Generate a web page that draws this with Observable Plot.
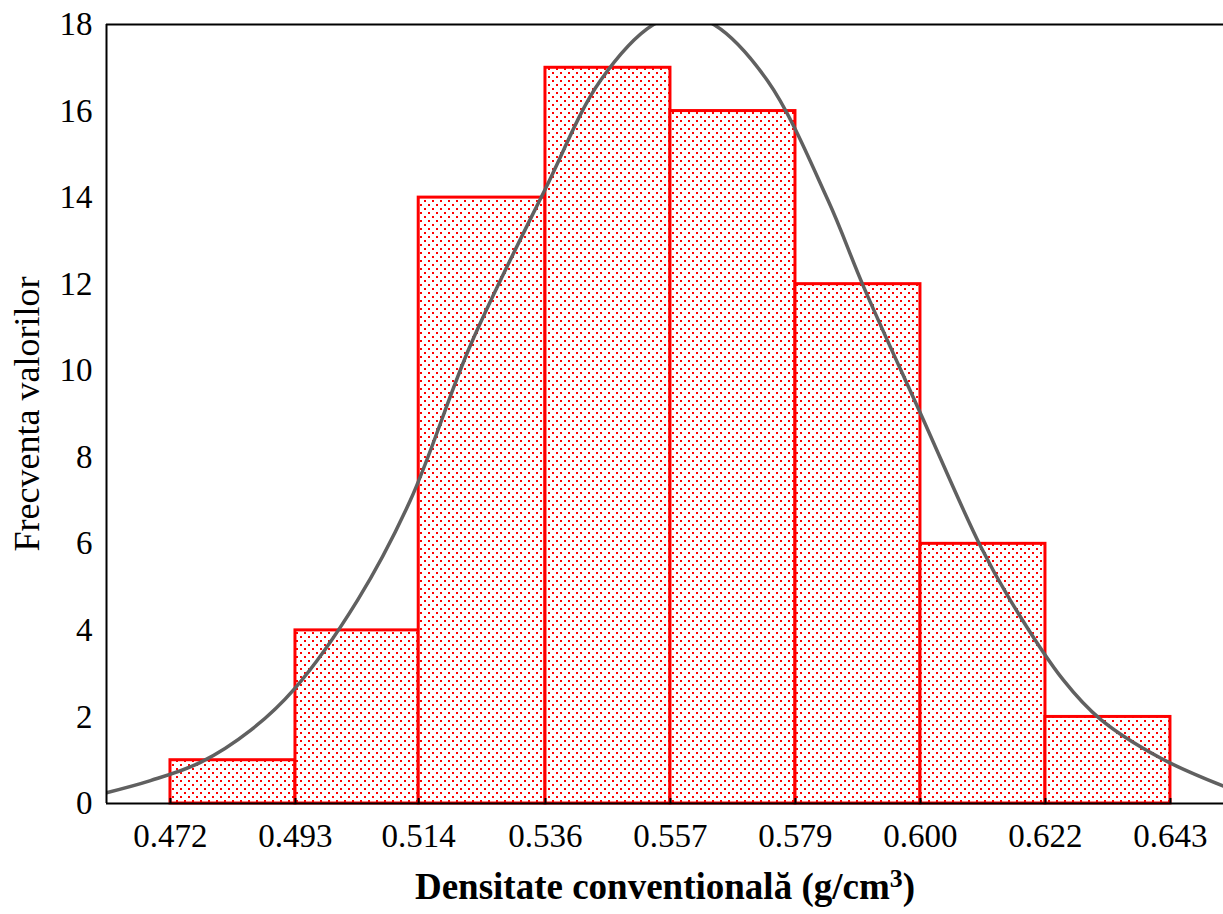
<!DOCTYPE html>
<html>
<head>
<meta charset="utf-8">
<script src="https://cdn.jsdelivr.net/npm/d3@7"></script>
<script src="https://cdn.jsdelivr.net/npm/@observablehq/plot@0.6"></script>
<style>
  html, body { margin: 0; padding: 0; background: #fff; }
</style>
</head>
<body>
<div id="chart"></div>
<script>
// Bin edges (g/cm3) and their printed labels
const edges = [0.472, 0.493375, 0.51445, 0.536125, 0.5575, 0.578875, 0.60025, 0.621625, 0.643];
const tickLabels = ["0.472", "0.493", "0.514", "0.536", "0.557", "0.579", "0.600", "0.622", "0.643"];
// Frequencies per bin
const counts = [1, 4, 14, 17, 16, 12, 6, 2];
// Y ticks
const yTicks = [0, 2, 4, 6, 8, 10, 12, 14, 16, 18];
// Visible axis extent
const xExtent = [0.46106, 0.65207];
const yExtent = [0, 18];
// Fitted normal curve
const curveX = [0.46106, 0.46858, 0.47713, 0.48568, 0.4932, 0.5040, 0.5130, 0.52333, 0.5361, 0.5455, 0.5546, 0.5597, 0.5649, 0.5741, 0.5844, 0.5905, 0.6003, 0.6105, 0.6156, 0.6247, 0.6310, 0.64129, 0.65207];
const curveY = [0.25, 0.53, 0.95, 1.69, 2.65, 4.7, 7.0, 10.6, 14.2, 16.7, 18.0, 18.2, 18.0, 16.7, 13.95, 11.95, 9.0, 5.95, 4.7, 2.85, 1.95, 1.05, 0.4];

const xTitle = "Densitate conventională (g/cm3)";
const yTitle = "Frecventa valorilor";

const bins = counts.map((c, i) => ({x1: edges[i], x2: edges[i + 1], y: c}));
const curve = curveX.map((x, i) => ({x, y: curveY[i]}));
const labelMap = new Map(edges.map((e, i) => [e, tickLabels[i]]));

const patternDefs = () => {
  const defs = d3.create("svg:defs");
  const p = defs.append("pattern")
    .attr("id", "dots")
    .attr("patternUnits", "userSpaceOnUse")
    .attr("width", 8).attr("height", 8);
  p.append("rect").attr("width", 8).attr("height", 8).attr("fill", "#fff");
  p.append("rect").attr("x", 0).attr("y", 0).attr("width", 2).attr("height", 2).attr("fill", "#ff0000");
  p.append("rect").attr("x", 4).attr("y", 4).attr("width", 2).attr("height", 2).attr("fill", "#ff0000");
  return defs.node();
};

const chart = Plot.plot({
  width: 1223,
  height: 914,
  marginLeft: 106,
  marginTop: 24,
  marginRight: 0,
  marginBottom: 111,
  style: {fontFamily: "'Liberation Serif', 'Times New Roman', serif", fontSize: "33px", color: "#000", background: "#fff", overflow: "visible"},
  x: {domain: xExtent, ticks: edges, tickFormat: d => labelMap.get(d), tickSize: 0, tickPadding: 20, label: null},
  y: {domain: yExtent, ticks: yTicks, tickSize: 0, tickPadding: 14, label: null},
  marks: [
    patternDefs,
    Plot.rectY(bins, {x1: "x1", x2: "x2", y: "y", fill: "url(#dots)", stroke: "#ff0000", strokeWidth: 3}),
    Plot.line(curve, {x: "x", y: "y", stroke: "#606060", strokeWidth: 3.5, curve: "catmull-rom", clip: true}),
    Plot.ruleY([yExtent[0]], {stroke: "#000", strokeWidth: 2}),
    Plot.ruleY([yExtent[1]], {stroke: "#000", strokeWidth: 2}),
    Plot.ruleX([xExtent[0]], {stroke: "#000", strokeWidth: 2}),
    Plot.ruleX(edges, {x: d => d, y1: 0, y2: 0, insetTop: -5, stroke: "#000", strokeWidth: 2}),
    Plot.text([yTitle], {frameAnchor: "left", rotate: -90, dx: -68, lineAnchor: "bottom", textAnchor: "middle", fontSize: 36, fill: "#000"}),
    Plot.text([xTitle], {frameAnchor: "bottom", dy: 95, lineAnchor: "bottom", textAnchor: "middle", fontSize: 37, fontWeight: "bold", fill: "#000"})
  ]
});

// Superscript for the unit exponent
d3.select(chart).selectAll("text").each(function() {
  const t = d3.select(this);
  if (t.text() === xTitle) {
    t.text(null);
    t.append("tspan").text("Densitate conventională (g/cm");
    t.append("tspan").attr("dy", "-0.45em").attr("font-size", "0.7em").text("3");
    t.append("tspan").attr("dy", "0.32em").text(")");
  }
});

document.getElementById("chart").append(chart);
</script>
</body>
</html>
